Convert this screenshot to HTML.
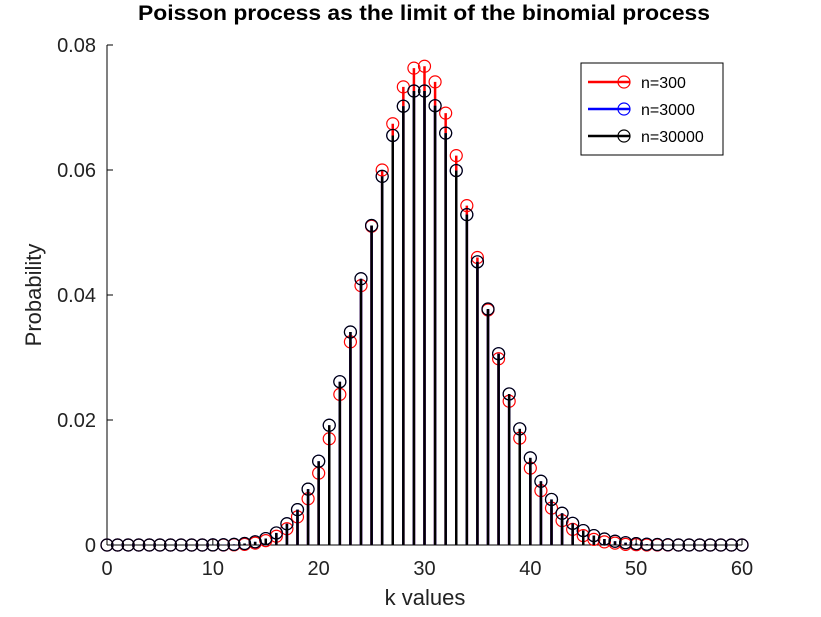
<!DOCTYPE html>
<html><head><meta charset="utf-8"><style>
body{margin:0;background:#fff;}
svg{font-family:"Liberation Sans",sans-serif;}
</style></head><body>
<svg id="c" width="821" height="612"></svg>
<script>
const kValues=[];for(let k=0;k<=60;k++)kValues.push(k);
const red300=[0,0,0,0,0,0,0,0,0,0,0,0,0.00003,0.0001,0.0003,0.0007,0.0014,0.0026,0.0045,0.0074,0.0115,0.0170,0.0241,0.0325,0.0415,0.0510,0.0600,0.0674,0.0733,0.0763,0.0766,0.0741,0.0691,0.0623,0.0543,0.0460,0.0376,0.0298,0.0230,0.0171,0.0123,0.0087,0.0059,0.0039,0.0025,0.0015,0.0009,0.0005,0.0003,0.0001,0.00005,0,0,0,0,0,0,0,0,0,0];
const blue3000=[0,0,0,0,0,0,0,0,0,0,0.000015,0.00004,0.0001,0.00024,0.00051,0.00103,0.00193,0.0034,0.00566,0.00894,0.01341,0.01916,0.02613,0.03408,0.0426,0.05112,0.05898,0.06553,0.07021,0.07264,0.07264,0.07029,0.0659,0.05991,0.05286,0.04531,0.03776,0.03061,0.02417,0.01859,0.01394,0.0102,0.00729,0.00508,0.00347,0.00231,0.00151,0.00096,0.0006,0.00037,0.00022,0.00013,0.000075,0.00004,0,0,0,0,0,0,0];
const black30000=blue3000.slice();
const xTicks=[0,10,20,30,40,50,60];
const yTicks=[0,0.02,0.04,0.06,0.08];
const yTickLabels=["0","0.02","0.04","0.06","0.08"];
const NS="http://www.w3.org/2000/svg";
const svg=document.getElementById('c');
const X=v=>107+(v-0)*(742-107)/60;
const Y=v=>545-v*(545-45)/0.08;
function mk(t,a){const e=document.createElementNS(NS,t);for(const k in a)e.setAttribute(k,a[k]);svg.appendChild(e);return e;}
let ax=mk('line',{x1:107,y1:45,x2:107,y2:545,stroke:'#000'});

ax=mk('line',{x1:107,y1:545,x2:742,y2:545,stroke:'#000'});

xTicks.forEach(v=>{
 mk('line',{x1:X(v),y1:545,x2:X(v),y2:539,stroke:'#000'});
 const t=mk('text',{x:X(v),y:575,'text-anchor':'middle','font-size':20,fill:'#222'});t.textContent=v;
 
});
yTicks.forEach((v,i)=>{
 mk('line',{x1:107,y1:Y(v),x2:113,y2:Y(v),stroke:'#000'});
 const t=mk('text',{x:96,y:Y(v)+7,'text-anchor':'end','font-size':20,fill:'#222'});t.textContent=yTickLabels[i];
 
});
function series(vals,col,name){
 vals.forEach((v,i)=>{
  const l=mk('line',{x1:X(kValues[i]),y1:Y(0),x2:X(kValues[i]),y2:Y(v),stroke:col,'stroke-width':2.5});
  
 });
 vals.forEach((v,i)=>{
  const c=mk('circle',{cx:X(kValues[i]),cy:Y(v),r:6,fill:'none',stroke:col,'stroke-width':1.2});
  
 });
}
series(red300,'#ff0000','n300');
series(blue3000,'#0000ff','n3000');
series(black30000,'#000','n30000');
let t=mk('text',{x:138,y:20,'font-size':21,'font-weight':'bold',textLength:572,lengthAdjust:'spacingAndGlyphs'});t.textContent='Poisson process as the limit of the binomial process';

t=mk('text',{x:425,y:605,'text-anchor':'middle','font-size':22,fill:'#222'});t.textContent='k values';

t=mk('text',{x:41,y:295,'text-anchor':'middle','font-size':22,fill:'#222',transform:'rotate(-90 41 295)'});t.textContent='Probability';

const lg=mk('rect',{x:581,y:63,width:142,height:92,fill:'#fff',stroke:'#000'});

[['n=300','#ff0000'],['n=3000','#0000ff'],['n=30000','#000']].forEach((e,i)=>{
 const y=82+i*27;
 mk('line',{x1:588,y1:y,x2:630,y2:y,stroke:e[1],'stroke-width':2.5});
 mk('circle',{cx:624,cy:y,r:6,fill:'none',stroke:e[1],'stroke-width':1.2});
 const tt=mk('text',{x:641,y:y+6,'font-size':16});tt.textContent=e[0];
 
});
</script>
</body></html>
